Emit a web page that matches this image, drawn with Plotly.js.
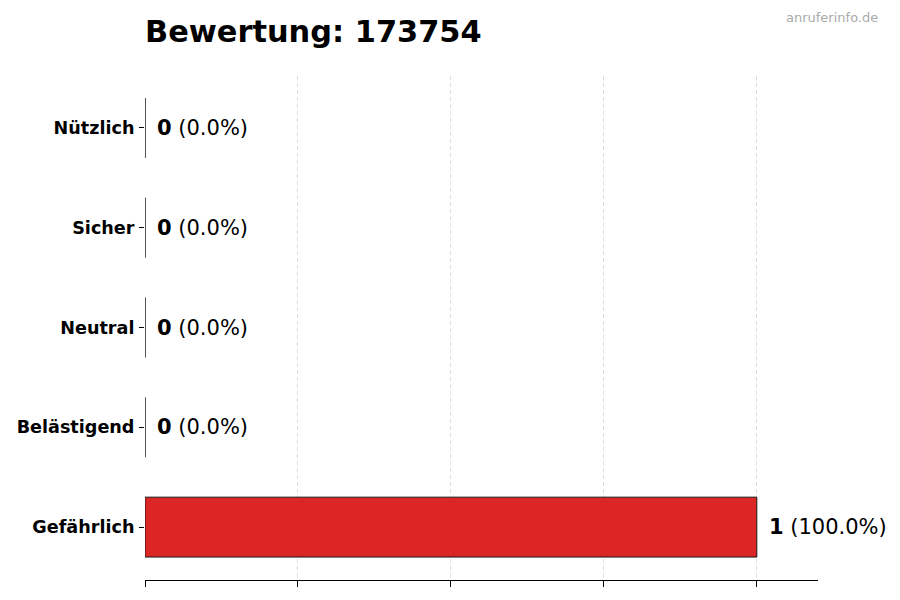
<!DOCTYPE html>
<html>
<head>
<meta charset="utf-8">
<script src="https://cdn.plot.ly/plotly-3.0.1.min.js"></script>
<style>
html, body {margin:0; padding:0; background:#fff;}
#chart {width:900px; height:600px;}
</style>
</head>
<body>
<div id="chart"></div>
<script>
// Bewertungen (bottom to top, as drawn)
var categories = ['Gefährlich', 'Belästigend', 'Neutral', 'Sicher', 'Nützlich'];
var counts = [1, 0, 0, 0, 0];
var total = counts.reduce(function(a, b){return a + b;}, 0);
var percents = counts.map(function(c){return total ? c / total * 100 : 0;});
var barColor = '#dc2626';
var barWidth = 0.6;

var bars = {
type: 'bar',
orientation: 'h',
x: counts,
y: categories,
width: barWidth,
marker: {color: barColor, line: {color: '#1a1a1a', width: 1}},
hoverinfo: 'skip',
showlegend: false
};

// thin edge line at the base of every bar (also visible for zero bars)
var edges = {
type: 'scatter',
mode: 'markers',
x: counts.map(function(){return 0;}),
y: categories,
marker: {size: 0.1, color: 'rgba(0,0,0,0)'},
error_y: {type: 'constant', value: barWidth / 2, width: 0, thickness: 1, color: '#1a1a1a'},
hoverinfo: 'skip',
showlegend: false
};

var annotations = categories.map(function(c, i){
return {
x: counts[i], y: c, xref: 'x', yref: 'y',
text: '<b>' + counts[i] + '</b> (' + percents[i].toFixed(1) + '%)',
showarrow: false, xanchor: 'left', yanchor: 'middle', xshift: 10,
font: {family: 'DejaVu Sans', size: 21, color: '#000'}
};
});
annotations.push({
xref: 'paper', yref: 'paper', x: 1.092, y: 1.117,
xanchor: 'right', yanchor: 'middle',
text: 'anruferinfo.de', showarrow: false,
font: {family: 'DejaVu Sans', size: 13, color: '#aaaaaa'}
});

var layout = {
width: 900, height: 600,
margin: {l: 145, r: 82, t: 76, b: 20},
paper_bgcolor: '#fff', plot_bgcolor: '#fff',
title: {
text: '<b>Bewertung: 173754</b>',
font: {family: 'DejaVu Sans', size: 30.4, color: '#000'},
x: 145 / 900, xanchor: 'left', xref: 'container',
y: 1 - 31 / 600, yanchor: 'middle', yref: 'container'
},
xaxis: {
range: [0, 1.1], dtick: 0.25, tick0: 0,
showgrid: true, gridcolor: '#dedede', griddash: '4px,3px', gridwidth: 1,
zeroline: false,
showline: true, linecolor: '#000', linewidth: 1,
ticks: 'outside', ticklen: 6, tickcolor: '#000',
showticklabels: false, fixedrange: true
},
yaxis: {
type: 'category', range: [-0.53, 4.52],
showgrid: false, zeroline: false, showline: false,
ticks: 'outside', ticklen: 5, tickcolor: '#000',
tickfont: {family: 'DejaVu Sans', size: 17.6, color: '#000', weight: 'bold'},
ticklabelstandoff: 1
},
annotations: annotations,
showlegend: false
};

Plotly.newPlot('chart', [bars, edges], layout, {displayModeBar: false, staticPlot: true});
</script>
</body>
</html>
